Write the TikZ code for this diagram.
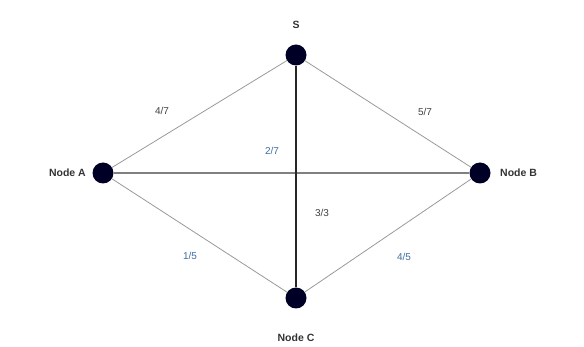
\documentclass[tikz,border=0pt]{standalone}
\usepackage{fontspec}
\setmainfont{Liberation Sans}
\usetikzlibrary{positioning,backgrounds}
\begin{document}
\begin{tikzpicture}[x=1pt,y=-1pt,
  vtx/.style={circle,fill=black!85!blue,minimum size=21pt,inner sep=0pt},
  lbl/.style={font=\fontsize{10.5}{12}\selectfont\bfseries,text=black!80},
  wl/.style={font=\fontsize{10}{12}\selectfont,text=black!75,fill=white,inner sep=1pt},
  wc/.style={font=\fontsize{10}{12}\selectfont,text=cyan!60!blue!70!black,fill=white,inner sep=1pt},
  thin/.style={draw=black!40,line width=0.8pt},
  mid/.style={draw=black!50,line width=1.8pt},
  thick/.style={draw=black!85,line width=2.8pt}]
\useasboundingbox (0,0) rectangle (584,347);
\node[vtx] (s) at (296,55) {};
\node[vtx] (a) at (103,173) {};
\node[vtx] (b) at (480,173) {};
\node[vtx] (t) at (296,298) {};
\node[lbl,above=12pt of s] (ls) {S};
\node[lbl,left=3pt of a] (la) {Node A};
\node[lbl,right=6pt of b] (lb) {Node B};
\node[lbl,below=22pt of t] (lt) {Node C};
\begin{scope}[on background layer]
\draw[thin] (s) -- (a);
\draw[thin] (s) -- (b);
\draw[thin] (a) -- (t);
\draw[thin] (b) -- (t);
\draw[mid] (a) -- (b);
\draw[thick] (s) -- (t);
\end{scope}
\node[wl] (w1) at (162,111) {4/7};
\node[wl] (w2) at (425,112) {5/7};
\node[wc] (w3) at (272,151) {2/7};
\node[wl] (w4) at (322,213) {3/3};
\node[wc] (w5) at (190,256) {1/5};
\node[wc] (w6) at (404,257) {4/5};
\end{tikzpicture}
\end{document}
